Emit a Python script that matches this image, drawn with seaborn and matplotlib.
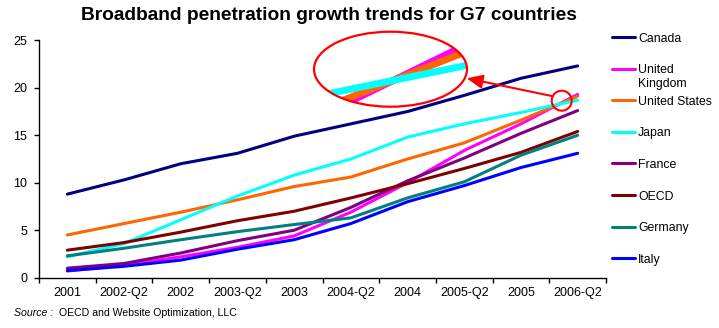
import matplotlib
matplotlib.use("Agg")
import numpy as np
import pandas as pd
import matplotlib.pyplot as plt
import seaborn as sns
from matplotlib.patches import Ellipse
from matplotlib.lines import Line2D

# ---------------- data ----------------
periods = ["2001", "2002-Q2", "2002", "2003-Q2", "2003",
           "2004-Q2", "2004", "2005-Q2", "2005", "2006-Q2"]
countries = ["Canada", "United Kingdom", "United States", "Japan",
             "France", "OECD", "Germany", "Italy"]
canada = [8.8, 10.3, 12.0, 13.1, 14.9, 16.2, 17.5, 19.2, 21.0, 22.3]
united_kingdom = [0.7, 1.3, 2.2, 3.2, 4.4, 6.9, 10.0, 13.4, 16.2, 19.3]
united_states = [4.5, 5.7, 6.9, 8.2, 9.6, 10.6, 12.5, 14.2, 16.6, 19.1]
japan = [2.2, 3.6, 6.1, 8.6, 10.8, 12.5, 14.8, 16.2, 17.4, 18.7]
france = [1.0, 1.5, 2.6, 3.9, 5.0, 7.4, 10.2, 12.6, 15.2, 17.6]
oecd = [2.9, 3.7, 4.8, 6.0, 7.0, 8.4, 9.9, 11.5, 13.2, 15.4]
germany = [2.3, 3.1, 4.0, 4.85, 5.6, 6.3, 8.4, 10.1, 12.9, 15.0]
italy = [0.75, 1.2, 1.85, 3.0, 4.0, 5.7, 8.0, 9.7, 11.6, 13.1]
series = [canada, united_kingdom, united_states, japan, france, oecd, germany, italy]
legend_labels = ["Canada", ["United", "Kingdom"], "United States", "Japan",
                 "France", "OECD", "Germany", "Italy"]
colors = {"Canada": "#000080", "United Kingdom": "#FF00FF",
          "United States": "#FF6600", "Japan": "#00FFFF",
          "France": "#800080", "OECD": "#800000",
          "Germany": "#008080", "Italy": "#0000FF"}
title = "Broadband penetration growth trends for G7 countries"

df = pd.DataFrame([
    {"period": p, "country": c, "value": v}
    for c, vals in zip(countries, series)
    for p, v in zip(periods, vals)
])

# ---------------- style ----------------
sns.set_theme(style="ticks")
plt.rcParams['font.family'] = ['Liberation Sans', 'DejaVu Sans']

W, H = 719, 328
fig = plt.figure(figsize=(W / 100, H / 100), dpi=100)
fig.patch.set_facecolor("white")


def fx(px):
    return px / W


def fy(py):
    return 1 - py / H


ax = fig.add_axes([fx(39), fy(277.7), 567 / W, 237.4 / H])
sns.lineplot(data=df, x="period", y="value", hue="country",
             hue_order=countries, palette=colors, linewidth=2.2,
             sort=False, legend=False, ax=ax)

ax.set_xlim(-0.5, len(periods) - 0.5)
ax.set_ylim(0, 25)
ax.set_yticks(np.arange(0, 26, 5))
ax.set_xticks(range(len(periods)))
ax.set_xticklabels(periods)
ax.set_xticks(np.arange(-0.5, len(periods), 1), minor=True)
ax.set_xlabel("")
ax.set_ylabel("")
ax.tick_params(axis="x", which="major", length=0, pad=7, labelsize=9,
               colors="black")
ax.tick_params(axis="x", which="minor", length=3.5, width=1, color="black",
               direction="out")
ax.tick_params(axis="y", length=3.5, width=1, pad=5, labelsize=9,
               color="black", labelcolor="black", direction="out")
for s in ["top", "right"]:
    ax.spines[s].set_visible(False)
for s in ["left", "bottom"]:
    ax.spines[s].set_color("black")
    ax.spines[s].set_linewidth(1)
ax.grid(False)

# ---------------- magnified inset ----------------
ins = fig.add_axes([fx(314), fy(106.7), 153 / W, 75 / H])
ins.set_axis_off()
bg = Ellipse((0.5, 0.5), 1, 1, transform=ins.transAxes, facecolor="white",
             edgecolor="none", zorder=0)
ins.add_patch(bg)
sns.lineplot(data=df, x="period", y="value", hue="country",
             hue_order=countries, palette=colors, linewidth=5,
             sort=False, legend=False, ax=ins)
for ln in ins.lines:
    ln.set_clip_path(bg)
    ln.set_solid_capstyle("butt")
ins.set_xlim(8.349, 8.961)
ins.set_ylim(17.60, 19.50)
ring = Ellipse((0.5, 0.5), 1, 1, transform=ins.transAxes, fill=False,
               edgecolor="red", lw=1.6, clip_on=False, zorder=5)
ins.add_patch(ring)

# small circle + arrow
small = Ellipse((fx(561.7), fy(100.7)), 20 / W, 20 / H,
                transform=fig.transFigure, fill=False, edgecolor="red", lw=1.5)
fig.add_artist(small)
ax.annotate("", xy=(466.7, H - 78.3), xycoords="figure pixels",
            xytext=(551.7, H - 96), textcoords="figure pixels",
            arrowprops=dict(arrowstyle="-|>,head_length=0.8,head_width=0.35",
                            color="red", lw=1.5, shrinkA=0, shrinkB=0,
                            mutation_scale=12))

# ---------------- legend (manual, Excel style) ----------------
for i, (c, lab) in enumerate(zip(countries, legend_labels)):
    y = 37 + 31.6 * i
    fig.add_artist(Line2D([fx(612), fx(635)], [fy(y), fy(y)],
                          color=colors[c], lw=2.2,
                          transform=fig.transFigure))
    if isinstance(lab, list):
        for j, part in enumerate(lab):
            fig.text(fx(638), fy(y + 14 * j), part, fontsize=8.8,
                     va="center_baseline", ha="left", color="black")
    else:
        fig.text(fx(638), fy(y), lab, fontsize=8.8, va="center_baseline",
                 ha="left", color="black")

# ---------------- texts ----------------
fig.text(fx(329), fy(15), title, ha="center", va="center", fontsize=13.8,
         fontweight="bold", color="black")
fig.text(fx(14), fy(313), "Source :", fontsize=7.6, style="italic",
         va="center", ha="left", color="black")
fig.text(fx(59), fy(313), "OECD and Website Optimization, LLC", fontsize=7.6,
         va="center", ha="left", color="black")

fig.savefig("out.png", dpi=100, facecolor="white")
